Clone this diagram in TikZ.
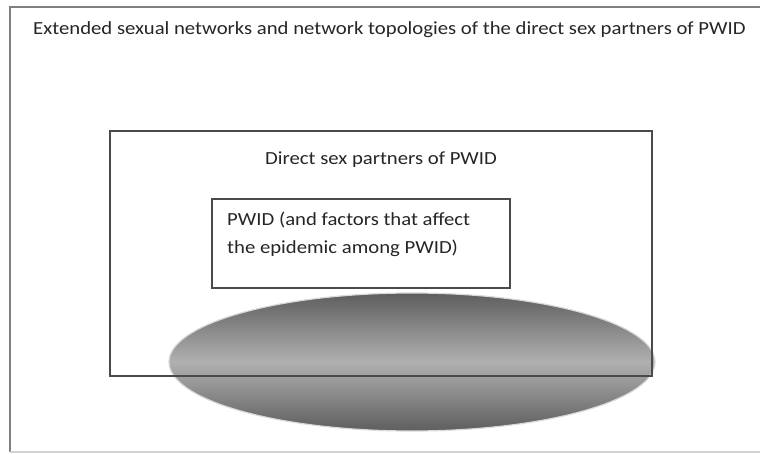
\documentclass[tikz,border=0pt]{standalone}
\usepackage{fontspec}
\setmainfont{Carlito}
\definecolor{txt}{HTML}{262626}
\definecolor{outerline}{HTML}{808080}
\definecolor{boxline}{HTML}{4A4A4A}
\definecolor{elldark}{HTML}{5E5E5E}
\definecolor{elllight}{HTML}{B0B0B0}
\newcommand{\widetext}[1]{\scalebox{1.12}[1]{#1}}
\tikzset{
  lbl/.style={font=\fontsize{18.5}{28}\selectfont, text=txt, inner sep=0pt},
  boxstyle/.style={draw=boxline, line width=1.4pt},
}
\begin{document}
\begin{tikzpicture}[x=1pt,y=-1pt]
\useasboundingbox (0,0) rectangle (760,454);
\fill[white] (0,0) rectangle (760,454);
% outer frame
\draw[outerline, line width=1.6pt] (762,7) -- (10,7) -- (10,452);
\draw[gray!35, line width=1.2pt] (10,452) -- (762,452);
\node[lbl, anchor=base west] (title) at (33,35) {\widetext{Extended sexual networks and network topologies of the direct sex partners of PWID}};
% ellipse
\shade[top color=elldark, bottom color=elldark, middle color=elllight, draw=gray!30, line width=1.2pt]
  (412,362) ellipse [x radius=243, y radius=69];
\node[coordinate] (ell) at (412,362) {};
% middle box
\draw[boxstyle] (110,131) rectangle (652,376);
\node[lbl, anchor=base] (direct) at (381,165) {\widetext{Direct sex partners of PWID}};
% inner box
\draw[boxstyle] (212,199) rectangle (510,288);
\node[lbl, anchor=base west] (pwid1) at (227,226) {\widetext{PWID (and factors that affect}};
\node[lbl, anchor=base west] (pwid2) at (227,254) {\widetext{the epidemic among PWID)}};
\end{tikzpicture}
\end{document}
